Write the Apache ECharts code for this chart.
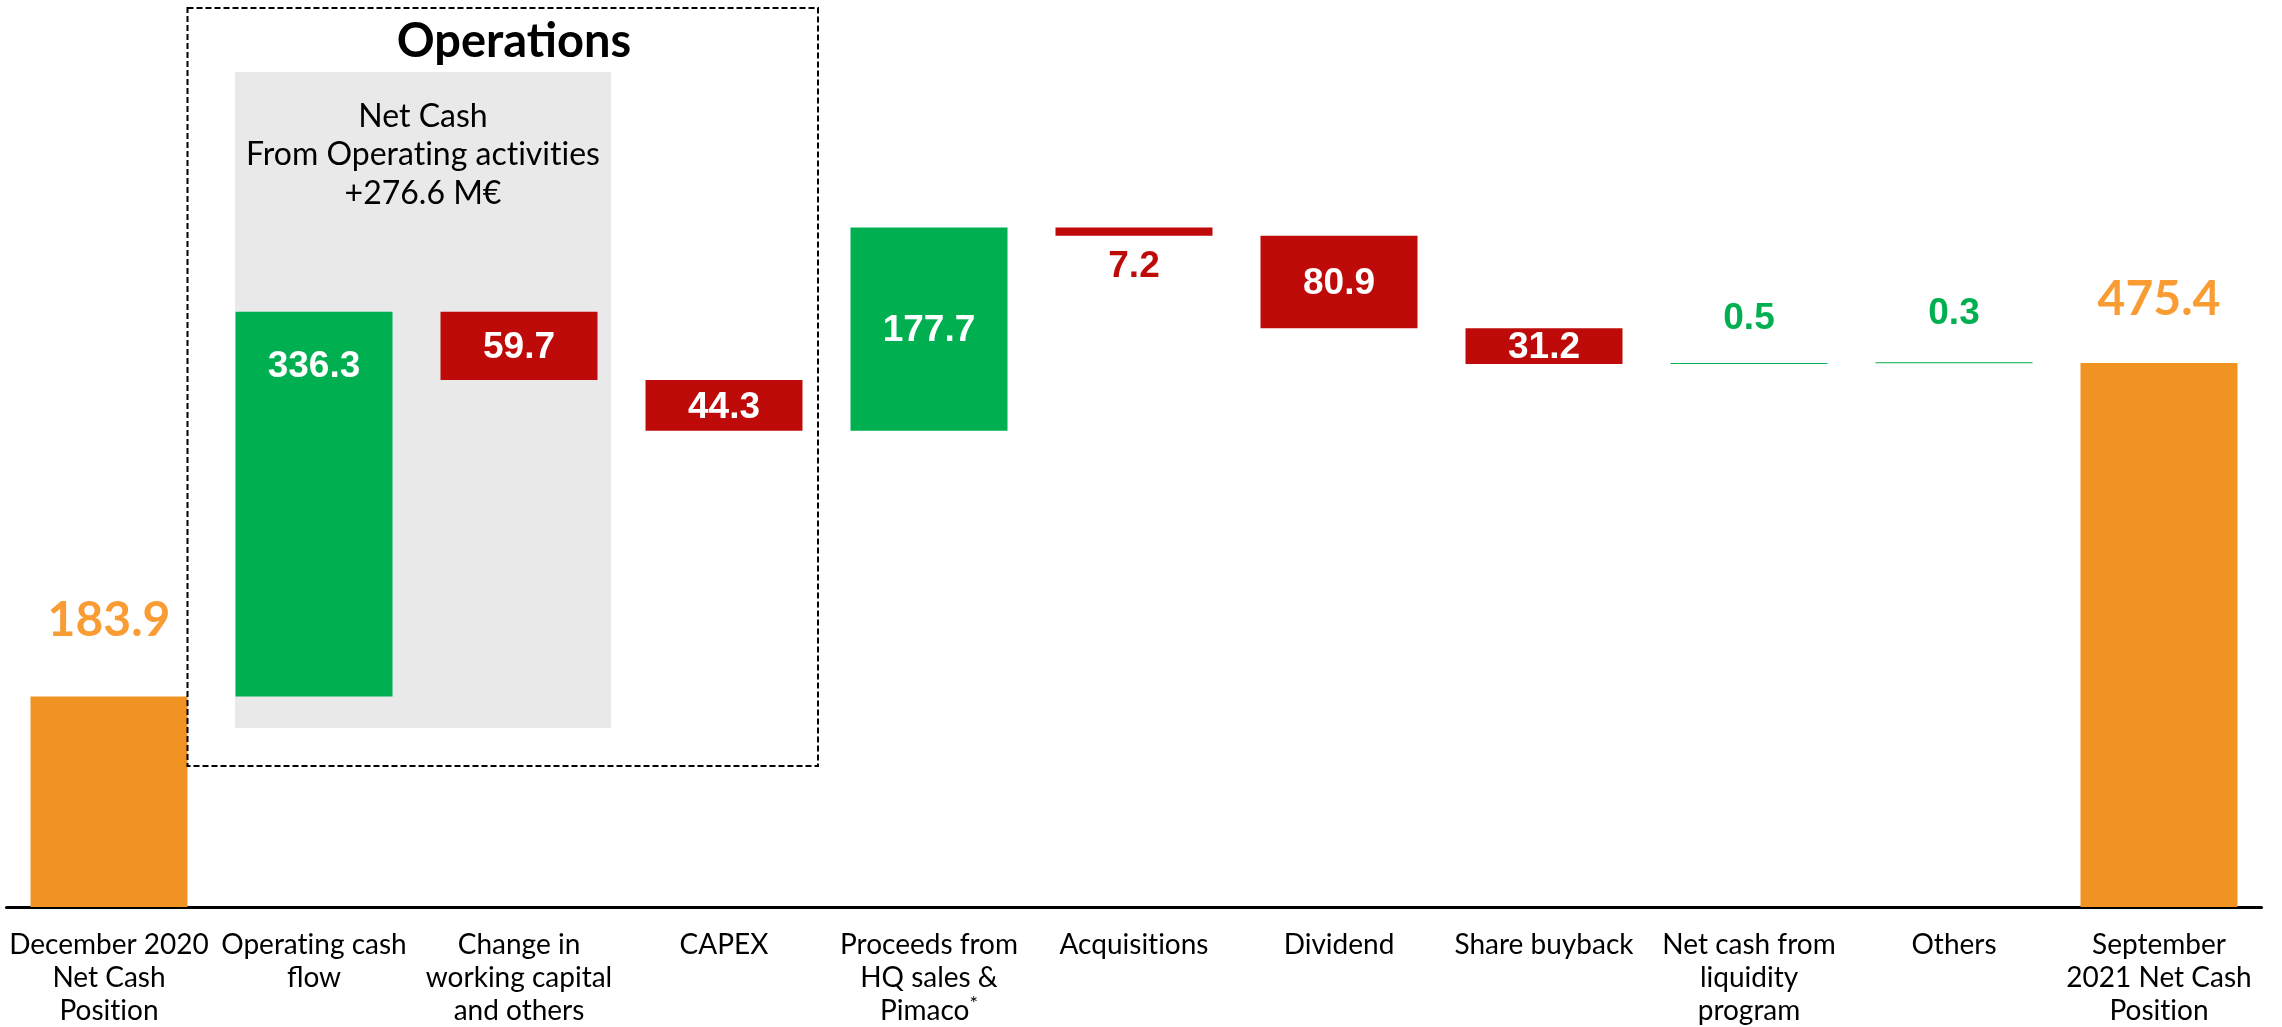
<!DOCTYPE html>
<html>
<head>
<meta charset="utf-8">
<script src="https://cdn.jsdelivr.net/npm/echarts@6/dist/echarts.min.js"></script>
<style>
  html, body { margin: 0; padding: 0; background: #ffffff; }
  #chart { width: 2282px; height: 1027px; }
</style>
</head>
<body>
<div id="chart"></div>
<script>
// Net cash bridge, December 2020 -> September 2021 (M€)
const categories = [
  'December 2020\nNet Cash\nPosition',
  'Operating cash\nflow',
  'Change in\nworking capital\nand others',
  'CAPEX',
  'Proceeds from\nHQ sales &\nPimaco*',
  'Acquisitions',
  'Dividend',
  'Share buyback',
  'Net cash from\nliquidity\nprogram',
  'Others',
  'September\n2021 Net Cash\nPosition'
];
const openingCash = 183.9;
const movements = [336.3, -59.7, -44.3, 177.7, -7.2, -80.9, -31.2, 0.5, 0.3];
const closingCash = 475.4;
const operationsNote = ['Net Cash', 'From Operating activities', '+276.6 M€'];

const ORANGE = '#F09322';
const ORANGE_TXT = '#FA9C34';
const GREEN = '#00B050';
const RED = '#BE0B0A';

// Lato turns "ti" into a ligature on canvas; keep the letters separate
const noLig = s => s.replace(/t(?=i)/g, 't\u200C');

// Build the floating (invisible) bases and the visible segment heights
const bases = [0];
const heights = [openingCash];
const kinds = ['total'];
let running = openingCash;
movements.forEach(m => {
  const next = running + m;
  bases.push(Math.min(running, next));
  heights.push(Math.abs(m));
  kinds.push(m >= 0 ? 'up' : 'down');
  running = next;
});
bases.push(0);
heights.push(closingCash);
kinds.push('total');

const numFont = '"Liberation Sans", Arial, sans-serif';
const labelFor = (i) => {
  const kind = kinds[i];
  const base = { show: true, fontFamily: numFont, fontWeight: 'bold', fontSize: 37, color: '#ffffff',
                 formatter: p => p.value.toFixed(1) };
  if (kind === 'total') {
    return Object.assign(base, { position: 'top', distance: i === 0 ? 52 : 39, color: ORANGE_TXT,
                                 fontFamily: 'Lato, sans-serif', fontSize: 48 });
  }
  if (i === 1) return Object.assign(base, { position: 'insideTop', distance: 37 });
  if (heights[i] < 5) return Object.assign(base, { position: 'top', distance: i === 8 ? 26 : 30, color: GREEN });
  if (heights[i] < 20) return Object.assign(base, { position: 'bottom', distance: 13, color: RED });
  return Object.assign(base, { position: 'inside', offset: [0, 2] });
};

const segData = heights.map((h, i) => ({
  value: h,
  itemStyle: { color: kinds[i] === 'total' ? ORANGE : (kinds[i] === 'up' ? GREEN : RED) },
  label: labelFor(i)
}));

const chart = echarts.init(document.getElementById('chart'), null, { renderer: 'canvas' });

chart.setOption({
  animation: false,
  backgroundColor: '#ffffff',
  grid: { left: 6.5, right: 20.5, top: 106, bottom: 120, containLabel: false },
  xAxis: {
    type: 'category',
    data: categories,
    axisLine: { show: true, lineStyle: { color: '#000000', width: 3 } },
    axisTick: { show: false },
    axisLabel: {
      interval: 0, margin: 21, color: '#000000', fontFamily: 'Lato, sans-serif',
      fontSize: 28, lineHeight: 33,
      formatter: v => noLig(v).replace('*', '{sup|*}'),
      rich: { sup: { fontFamily: 'Lato, sans-serif', fontSize: 20, verticalAlign: 'top', lineHeight: 33, padding: [0, 0, 10, 0] } }
    }
  },
  yAxis: { type: 'value', min: 0, max: 700, show: false, splitLine: { show: false } },
  graphic: [
    { type: 'rect', z: 0, shape: { x: 235, y: 72, width: 376, height: 656 }, style: { fill: '#E9E9E9' } },
    { type: 'rect', z: 100, shape: { x: 187.5, y: 8, width: 630.5, height: 758 },
      style: { fill: 'none', stroke: '#000000', lineWidth: 2, lineDash: [6, 3] } },
    { type: 'text', z: 100, x: 514, y: 42,
      style: { text: 'Operations', fontFamily: 'Lato, sans-serif', fontWeight: 'bold', fontSize: 47,
               fill: '#000000', textAlign: 'center', textVerticalAlign: 'middle' } },
    { type: 'text', z: 100, x: 423, y: 155,
      style: { text: noLig(operationsNote.join('\n')), fontFamily: 'Lato, sans-serif', fontSize: 32, lineHeight: 38.5,
               fill: '#000000', textAlign: 'center', textVerticalAlign: 'middle' } }
  ],
  series: [
    {
      name: 'base', type: 'bar', stack: 'bridge', data: bases, barWidth: 157,
      itemStyle: { color: 'transparent' }, emphasis: { disabled: true }, silent: true, z: 2
    },
    {
      name: 'movement', type: 'bar', stack: 'bridge', data: segData, barWidth: 157,
      barMinHeight: 1, z: 3
    }
  ]
});
</script>
</body>
</html>
